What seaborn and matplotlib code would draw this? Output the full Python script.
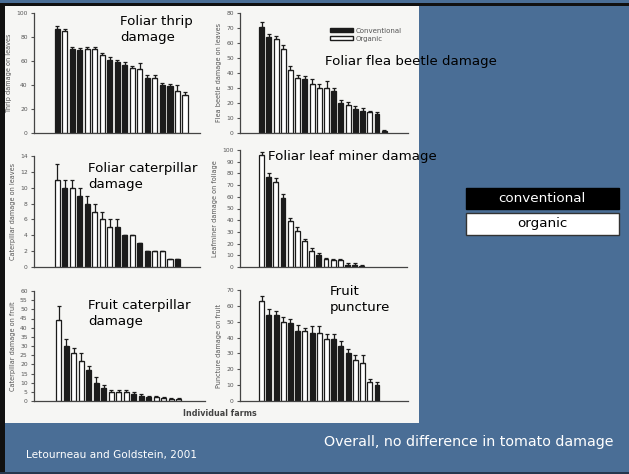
import matplotlib
matplotlib.use("Agg")
import matplotlib.pyplot as plt
import numpy as np
import pandas as pd
import seaborn as sns
from matplotlib.patches import Rectangle, Patch

# Data (C = conventional, O = organic)
thrip_vals = [87, 85, 70, 69, 70, 70, 65, 61, 59, 57, 54, 53, 46, 46, 40, 39, 35, 32]
thrip_kind = list("COCCOOOCCCOOCOCCOO")
thrip_err = [2, 2, 2, 2, 2, 2, 2, 2, 2, 2, 2, 5, 2, 2, 2, 2, 5, 2]

flea_vals = [71, 64, 63, 56, 42, 37, 36, 33, 30, 30, 28, 20, 19, 16, 15, 14, 13, 1.5]
flea_kind = list("CCOOOOCOOOCCOCCOCC")
flea_err = [3, 2, 2, 3, 3, 2, 2, 3, 3, 5, 2, 2, 2, 2, 2, 1, 1, 0.5]

leafcat_vals = [11, 10, 10, 9, 8, 7, 6, 5, 5, 4, 4, 3, 2, 2, 2, 1, 1]
leafcat_kind = list("OCOCCOOOCCOCCOOOC")
leafcat_err = [2, 1, 1, 1, 1, 1, 1, 1, 1, 0, 0, 0, 0, 0, 0, 0, 0]

miner_vals = [96, 77, 73, 59, 39, 31, 22, 14, 10, 7, 6, 6, 2, 2, 1]
miner_kind = list("OCOCOOOOCOOOCCO")
miner_err = [2, 3, 3, 3, 3, 3, 2, 2, 2, 1, 1, 1, 1, 1, 0.5]

fruitcat_vals = [44, 30, 26, 22, 17, 10, 7, 5, 5, 5, 4, 3, 2, 2, 1.5, 1, 1]
fruitcat_kind = list("OCOOCCCOOOCCCOOOO")
fruitcat_err = [8, 4, 3, 4, 2, 3, 2, 1, 1, 1, 1, 1, 0.5, 0.5, 0.5, 0.5, 0.5]

punct_vals = [63, 54, 54, 50, 49, 44, 44, 43, 43, 39, 39, 35, 30, 26, 24, 12, 10]
punct_kind = list("OCCOCCOCOOCCCOOOC")
punct_err = [3, 4, 3, 3, 3, 4, 2, 4, 4, 3, 3, 3, 3, 3, 5, 2, 2]

kind_names = {"C": "Conventional", "O": "Organic"}
W, H = 629, 474
BLUE = "#4a6e96"
INK = "#1b1b1b"


def fig_box(left, top, right, bottom):
    # pixel box (image coords) -> figure fraction [x, y, w, h]
    return [left / W, 1 - bottom / H, (right - left) / W, (bottom - top) / H]


sns.set_theme(style="white")
plt.rcParams["font.family"] = ["DejaVu Sans"]

fig = plt.figure(figsize=(W / 100, H / 100), dpi=100)
fig.patch.set_facecolor(BLUE)

# scanned figure background and slide borders
fig.add_artist(Rectangle((5 / W, 1 - 423 / H), 414 / W, 417 / H,
                         transform=fig.transFigure, facecolor="#f6f6f4", edgecolor="none", zorder=0))
fig.add_artist(Rectangle((0, 1 - 6 / H), 1, 3 / H, transform=fig.transFigure,
                         facecolor="#111111", edgecolor="none", zorder=1))
fig.add_artist(Rectangle((0, 0), 5 / W, 1 - 3 / H, transform=fig.transFigure,
                         facecolor="#111111", edgecolor="none", zorder=1))
fig.add_artist(Rectangle((0, 0), 1, 2 / H, transform=fig.transFigure,
                         facecolor="#25364d", edgecolor="none", zorder=1))

panels = [
    (thrip_vals, thrip_kind, thrip_err, 100, 20, "Thrip damage on leaves", (34, 13, 200, 133), (-3.1, 19)),
    (flea_vals, flea_kind, flea_err, 80, 10, "Flea beetle damage on leaves", (240, 13, 408, 133), (-3, 20.3)),
    (leafcat_vals, leafcat_kind, leafcat_err, 14, 2, "Caterpillar damage on leaves", (34, 156, 200, 267), (-3.1, 19)),
    (miner_vals, miner_kind, miner_err, 100, 10, "Leafminer damage on foliage", (240, 150, 407, 267), (-3, 20.3)),
    (fruitcat_vals, fruitcat_kind, fruitcat_err, 60, 5, "Caterpillar damage on fruit", (34, 291, 205, 401), (-3.3, 19.5)),
    (punct_vals, punct_kind, punct_err, 70, 10, "Puncture damage on fruit", (240, 290, 408, 401), (-3, 20.3)),
]

axes = []
for vals, kinds, errs, ymax, step, ylabel, box, xlim in panels:
    ax = fig.add_axes(fig_box(*box))
    ax.set_facecolor("none")
    df = pd.DataFrame({"farm": range(len(vals)), "damage": vals,
                       "system": [kind_names[k] for k in kinds]})
    sns.barplot(data=df, x="farm", y="damage", hue="system",
                hue_order=["Conventional", "Organic"],
                palette={"Conventional": INK, "Organic": "white"},
                dodge=False, width=0.68, edgecolor=INK, linewidth=0.9,
                errorbar=None, legend=False, ax=ax)
    ax.errorbar(df["farm"], df["damage"], yerr=[np.zeros(len(errs)), errs],
                fmt="none", ecolor=INK, elinewidth=0.9, capsize=1.3, capthick=0.9)
    ax.set_xlim(*xlim)
    ax.set_ylim(0, ymax)
    ax.set_yticks(np.arange(0, ymax + 0.1, step))
    ax.set_xticks([])
    ax.set_xlabel("")
    ax.set_ylabel(ylabel, fontsize=4.7, color="#555555", labelpad=3)
    ax.tick_params(axis="y", labelsize=4.3, colors="#555555", length=2, width=0.8, left=True, pad=2.5)
    for s in ["top", "right"]:
        ax.spines[s].set_visible(False)
    for s in ["left", "bottom"]:
        ax.spines[s].set_color("#444444")
        ax.spines[s].set_linewidth(0.9)
    axes.append(ax)

# small legend inside the flea beetle panel
axes[1].legend(handles=[Patch(facecolor=INK, edgecolor=INK, label="Conventional"),
                        Patch(facecolor="white", edgecolor=INK, label="Organic")],
               loc="upper left", bbox_to_anchor=(0.5, 0.93), frameon=False,
               fontsize=5, handlelength=3.3, handleheight=0.6, labelspacing=0.3,
               handletextpad=0.3, labelcolor="#555555")

fig.text(220 / W, 1 - 413 / H, "Individual farms", fontsize=5.8, color="#444444",
         ha="center", va="center", fontweight="bold")

# slide overlay captions
cap = dict(fontsize=9.6, color="black", va="top", ha="left", linespacing=1.3)
fig.text(120 / W, 1 - 15 / H, "Foliar thrip\ndamage", **cap)
fig.text(325 / W, 1 - 55 / H, "Foliar flea beetle damage", **cap)
fig.text(88 / W, 1 - 162 / H, "Foliar caterpillar\ndamage", **cap)
fig.text(268 / W, 1 - 150 / H, "Foliar leaf miner damage", **cap)
fig.text(88 / W, 1 - 299 / H, "Fruit caterpillar\ndamage", **cap)
fig.text(330 / W, 1 - 285 / H, "Fruit\npuncture", **cap)

# colour key boxes
fig.add_artist(Rectangle((466 / W, 1 - 209 / H), 153 / W, 21 / H, transform=fig.transFigure,
                         facecolor="black", edgecolor="black", zorder=2))
fig.add_artist(Rectangle((466 / W, 1 - 235 / H), 153 / W, 22 / H, transform=fig.transFigure,
                         facecolor="white", edgecolor="#333333", linewidth=1, zorder=2))
fig.text(542 / W, 1 - 199 / H, "conventional", fontsize=9.7, color="white", ha="center", va="center", zorder=3)
fig.text(542 / W, 1 - 224 / H, "organic", fontsize=9.7, color="black", ha="center", va="center", zorder=3)

fig.text(26 / W, 1 - 455 / H, "Letourneau and Goldstein, 2001", fontsize=7.6, color="white",
         ha="left", va="center")
fig.text(613 / W, 1 - 442 / H, "Overall, no difference in tomato damage", fontsize=10.3,
         color="white", ha="right", va="center")

fig.savefig("out.png", dpi=100, facecolor=fig.get_facecolor())
